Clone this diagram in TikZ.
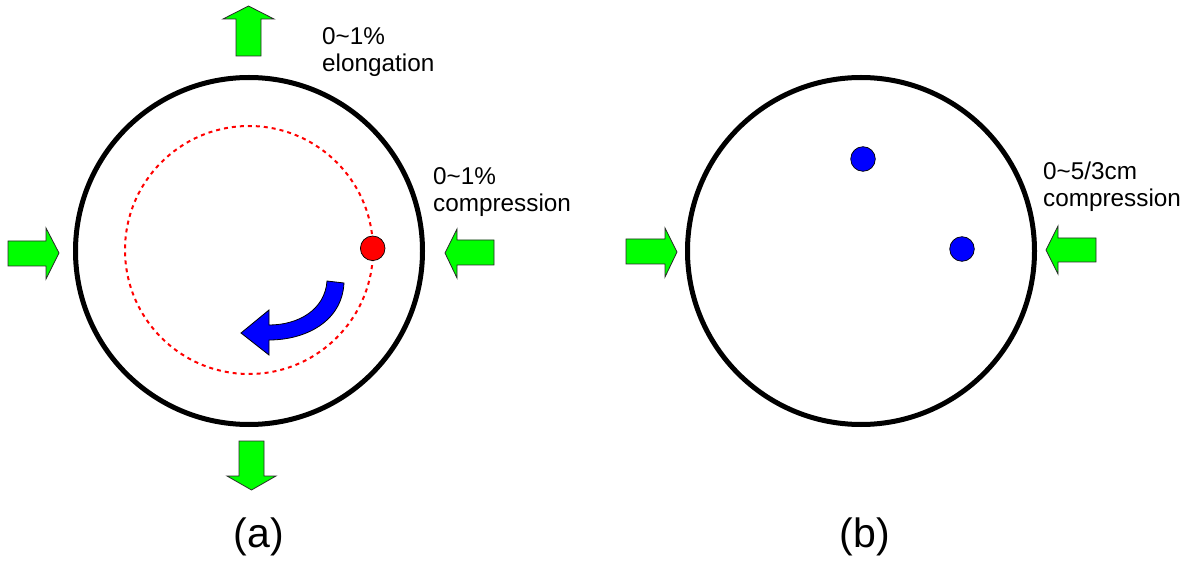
\documentclass[tikz,border=0pt]{standalone}
\usepackage{fontspec}
\setmainfont{Liberation Sans}
\definecolor{agreen}{RGB}{0,255,0}
\definecolor{ablue}{RGB}{0,0,255}
\definecolor{ared}{RGB}{255,0,0}
\definecolor{aedge}{RGB}{40,40,40}
\tikzset{
  ring/.style={draw=black, line width=5pt, circle, inner sep=0pt, minimum size=347pt},
  orbit/.style={draw=ared, line width=2pt, circle, inner sep=0pt, minimum size=248pt, dash pattern=on 4pt off 4pt},
  dot/.style={circle, inner sep=0pt, minimum size=24.6pt, draw=black, line width=0.7pt},
  garrow/.style={fill=agreen, draw=aedge, line width=0.8pt, line join=miter},
  barrow/.style={fill=ablue, draw=black, line width=0.8pt, line join=miter},
  lbl/.style={font=\fontsize{24.3}{27}\selectfont, align=left, inner sep=0pt, anchor=north west},
  caplabel/.style={font=\fontsize{41}{48}\selectfont, inner sep=0pt, anchor=base}
}
\begin{document}
\begin{tikzpicture}[x=1pt,y=-1pt]
\useasboundingbox (0,0) rectangle (1197,561);
% (a)
\node[ring] (ringA) at (249,251) {};
\node[orbit] (orbitA) at (249,250) {};
\node[dot, fill=ared] (redDot) at (372.7,248.3) {};
\draw[barrow] (344,283) .. controls (342,322) and (305,340) .. (269,340) -- (269,355) -- (241,333) -- (269,310) -- (269,325) .. controls (298,325) and (325,310) .. (327,281) -- cycle;
\draw[garrow] (236,56) -- (236,19) -- (223,19) -- (248.5,6) -- (274,19) -- (261,19) -- (261,56) -- cycle;
\draw[garrow] (239,441) -- (239,476) -- (227,476) -- (251.5,490) -- (276,476) -- (264,476) -- (264,441) -- cycle;
\draw[garrow] (8,241) -- (46,241) -- (46,228) -- (59,253) -- (46,279) -- (46,266) -- (8,266) -- cycle;
\draw[garrow] (494,240) -- (457,240) -- (457,229) -- (445,253) -- (457,278) -- (457,265) -- (494,265) -- cycle;
\node[lbl] (elong) at (322,27) {0\char`~1\%\\elongation};
\node[lbl] (compA) at (433,167) {0\char`~1\%\\compression};
\node[caplabel] (capA) at (259,547) {(a)};
% (b)
\node[ring] (ringB) at (861,251) {};
\node[dot, fill=ablue] (blueDotA) at (863,159) {};
\node[dot, fill=ablue] (blueDotB) at (962,249) {};
\draw[garrow] (626,239) -- (665,239) -- (665,228) -- (677,252) -- (665,277) -- (665,264) -- (626,264) -- cycle;
\draw[garrow] (1096,238) -- (1058,238) -- (1058,226) -- (1046,250) -- (1058,274) -- (1058,262) -- (1096,262) -- cycle;
\node[lbl] (compB) at (1043,162) {0\char`~5/3cm\\compression};
\node[caplabel] (capB) at (865,547) {(b)};
\end{tikzpicture}
\end{document}
